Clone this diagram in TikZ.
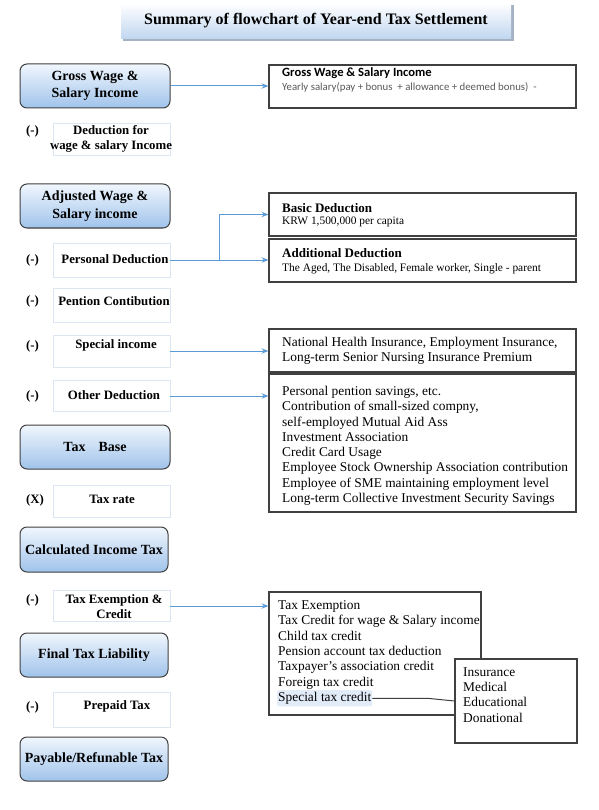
\documentclass[tikz,border=0pt]{standalone}
\usepackage{fontspec}
\setmainfont{Liberation Serif}
\newfontfamily\calib{Carlito}
\usetikzlibrary{arrows.meta}
\definecolor{arrblue}{RGB}{91,155,213}
\definecolor{boxedge}{RGB}{64,64,64}
\definecolor{gradtop}{RGB}{240,246,253}
\definecolor{gradbot}{RGB}{160,195,235}
\definecolor{faint}{RGB}{220,230,242}
\definecolor{hl}{RGB}{226,235,248}
\definecolor{greytext}{RGB}{89,89,89}
\definecolor{titlebot}{RGB}{192,214,240}
\definecolor{titleshadow}{RGB}{165,178,196}
\begin{document}
\begin{tikzpicture}[x=1pt,y=-1pt,
 mainbox/.style={draw=boxedge, line width=1pt, rounded corners=7pt, top color=gradtop, bottom color=gradbot, minimum width=150pt, minimum height=44pt, inner sep=0pt, align=center, font=\fontsize{14}{17.5}\selectfont\bfseries},
 subbox/.style={draw=faint, line width=0.8pt, fill=white, minimum width=117pt, minimum height=33pt, inner sep=0pt},
 subtext/.style={font=\fontsize{12.8}{15}\selectfont\bfseries, align=center, inner sep=0pt},
 sign/.style={font=\fontsize{12.8}{15}\selectfont\bfseries, inner sep=0pt},
 infobox/.style={draw=boxedge, line width=1.2pt, fill=white, inner sep=0pt},
 infoline/.style={font=\fontsize{13.4}{15.25}\selectfont, inner sep=0pt, anchor=base west},
 infohead/.style={font=\fontsize{13}{15}\selectfont\bfseries, inner sep=0pt, anchor=base west},
 infosub/.style={font=\fontsize{11.4}{13}\selectfont, inner sep=0pt, anchor=base west},
 arr/.style={draw=arrblue, line width=1pt, -{Stealth[length=7pt,width=5.5pt,inset=2.5pt]}},
 conn/.style={draw=boxedge, line width=1pt},
]
\useasboundingbox (0,0) rectangle (598,810);
\fill[white] (0,0) rectangle (598,810);

% title
\fill[titleshadow] (123,5) rectangle (514,41);
\node[top color=white, bottom color=titlebot, minimum width=390pt, minimum height=36pt, inner sep=0pt, font=\fontsize{16}{19}\selectfont\bfseries] (title) at (316,21) {Summary of flowchart of Year-end Tax Settlement};

% main flow boxes
\node[mainbox] (gross) at (95,86) {Gross Wage \&\\Salary Income};
\node[mainbox] (adj) at (95,206) {Adjusted Wage \&\\Salary income};
\node[mainbox] (base) at (95,447) {Tax\hspace{13pt}Base};
\node[mainbox, minimum width=148pt, minimum height=45pt] (calc) at (94,549.5) {Calculated Income Tax};
\node[mainbox, minimum width=148pt] (final) at (94,655) {Final Tax Liability};
\node[mainbox, minimum width=148pt] (pay) at (94,759) {Payable/Refunable Tax};

% deduction boxes
\node[subbox, minimum height=32pt] (ded) at (111.5,139) {};
\node[subtext] (dedt) at (111,138.5) {Deduction for\\wage \& salary Income};
\node[subbox, minimum height=34pt] (pd) at (111.5,260) {};
\node[subtext] (pdt) at (115,259) {Personal Deduction};
\node[subbox, minimum height=34pt] (pc) at (111.5,305) {};
\node[subtext] (pct) at (114,301) {Pention Contibution};
\node[subbox, minimum height=32pt] (si) at (111.5,351) {};
\node[subtext] (sit) at (116,345) {Special income};
\node[subbox, minimum height=31pt] (od) at (111.5,396) {};
\node[subtext] (odt) at (114,395) {Other Deduction};
\node[subbox, minimum height=32pt] (tr) at (111.5,501) {};
\node[subtext] (trt) at (112,499) {Tax rate};
\node[subbox, minimum height=31pt] (te) at (111.5,606) {};
\node[subtext] (tet) at (114,606.5) {Tax Exemption \&\\Credit};
\node[subbox, minimum height=35pt] (pp) at (111.5,709.5) {};
\node[subtext] (ppt) at (117,706) {Prepaid Tax};

% signs
\node[sign] (s1) at (32.5,131) {(-)};
\node[sign] (s2) at (32.5,260) {(-)};
\node[sign] (s3) at (32.5,301) {(-)};
\node[sign] (s4) at (32.5,346) {(-)};
\node[sign] (s5) at (32.5,396) {(-)};
\node[sign] (s6) at (35,500) {(X)};
\node[sign] (s7) at (32.5,600) {(-)};
\node[sign] (s8) at (32.5,707) {(-)};

% right info boxes
\node[infobox, minimum width=307pt, minimum height=43pt] (grossR) at (422.5,86.5) {};
\node[font=\calib\bfseries\fontsize{12.6}{14}\selectfont, inner sep=0pt, anchor=base west] (grossRt) at (282,76.5) {Gross Wage \& Salary Income};
\node[font=\calib\fontsize{10.8}{12}\selectfont, text=greytext, inner sep=0pt, anchor=base west] (grossRs) at (282,91) {Yearly salary(pay + bonus\ \ + allowance + deemed bonus)\ \ -};

\node[infobox, minimum width=307pt, minimum height=43pt] (basic) at (422.5,214.5) {};
\node[infohead] (basict) at (282,212.5) {Basic Deduction};
\node[infosub] (basics) at (282,225) {KRW 1,500,000 per capita};

\node[infobox, minimum width=307pt, minimum height=43pt] (addl) at (422.5,260.5) {};
\node[infohead] (addlt) at (282,257.5) {Additional Deduction};
\node[infosub] (addls) at (282,271) {The Aged, The Disabled, Female worker, Single - parent};

\node[infobox, minimum width=307pt, minimum height=43pt] (nhi) at (422.5,350.5) {};
\node[infoline] (nhi1) at (282,346.5) {National Health Insurance, Employment Insurance,};
\node[infoline] (nhi2) at (282,361.5) {Long-term Senior Nursing Insurance Premium};

\node[infobox, minimum width=307pt, minimum height=138pt] (other) at (422.5,443) {};
\foreach \t [count=\i] in {{Personal pention savings, etc.},{Contribution of small-sized compny,},{self-employed Mutual Aid Ass},{Investment Association},{Credit Card Usage},{Employee Stock Ownership Association contribution},{Employee of SME maintaining employment level},{Long-term Collective Investment Security Savings}}
  \node[infoline] (ol\i) at (282,{395.5+15.25*(\i-1)}) {\t};

\node[infobox, minimum width=212pt, minimum height=123pt] (texm) at (375,653.5) {};
\foreach \t [count=\i] in {{Tax Exemption},{Tax Credit for wage \& Salary income},{Child tax credit},{Pension account tax deduction},{Taxpayer's association credit},{Foreign tax credit}}
  \node[infoline] (tl\i) at (278,{609.5+15.3*(\i-1)}) {\t};
\node[infoline, fill=hl, rounded corners=2pt, inner xsep=1pt, inner ysep=2pt] (stc) at (277,701.5) {Special tax credit};

\node[infobox, minimum width=122pt, minimum height=84pt] (ins) at (516,701) {};
\foreach \t [count=\i] in {Insurance,Medical,Educational,Donational}
  \node[infoline] (il\i) at (463,{676.5+15.2*(\i-1)}) {\t};

% connectors
\draw[arr] (gross.east) -- (gross.east -| grossR.west);
\coordinate (br) at (219,260);
\draw[arr] (pd.east) -- (pd.east -| addl.west);
\draw[arr] (br) |- (basic.west);
\draw[arr] (si.east) -- (si.east -| nhi.west);
\draw[arr] (od.east) -- (od.east -| other.west);
\draw[arr] (te.east) -- (te.east -| texm.west);
\draw[conn] (stc.east) -- ++(55,0) -- (ins.west);
\end{tikzpicture}
\end{document}
